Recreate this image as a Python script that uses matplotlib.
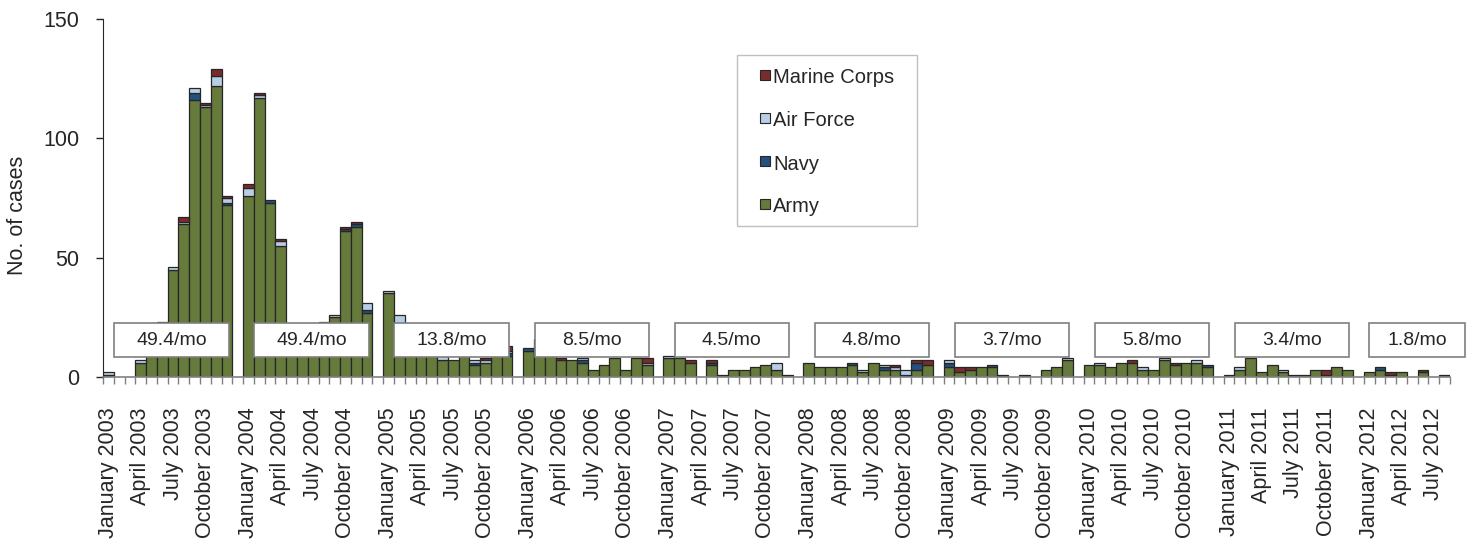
import matplotlib
matplotlib.use('Agg')
import matplotlib.pyplot as plt
from matplotlib.patches import Rectangle

plt.rcParams['font.family'] = ['Liberation Sans', 'DejaVu Sans']

# monthly cases, January 2003 - August 2012
years = [2003, 2004, 2005, 2006, 2007, 2008, 2009, 2010, 2011, 2012]
month_names = ['January', 'February', 'March', 'April', 'May', 'June', 'July',
               'August', 'September', 'October', 'November', 'December']

army = [1, 0, 0, 6, 10, 22, 45, 64, 116, 113, 122, 72,
        76, 117, 73, 55, 19, 18, 16, 22, 25, 61, 63, 27,
        35, 22, 13, 12, 12, 7, 7, 11, 5, 6, 12, 9,
        11, 16, 15, 7, 7, 6, 3, 5, 8, 3, 8, 5,
        8, 8, 6, 0, 5, 1, 3, 3, 4, 5, 3, 1,
        6, 4, 4, 4, 5, 2, 6, 3, 3, 0, 3, 5,
        4, 2, 3, 4, 4, 0, 0, 0, 0, 3, 4, 7,
        5, 5, 4, 6, 6, 3, 3, 7, 5, 6, 6, 4,
        1, 3, 8, 2, 5, 2, 1, 1, 3, 1, 4, 3,
        2, 3, 1, 2, 0, 2, 0, 1]
navy = [0, 0, 0, 0, 0, 0, 0, 0, 3, 0, 0, 1,
        0, 0, 1, 0, 0, 0, 0, 0, 0, 1, 1, 1,
        0, 0, 0, 0, 0, 0, 0, 0, 1, 0, 0, 1,
        1, 0, 0, 0, 0, 1, 0, 0, 0, 0, 0, 0,
        0, 0, 0, 0, 1, 0, 0, 0, 0, 0, 0, 0,
        0, 0, 0, 0, 1, 0, 0, 1, 0, 1, 3, 0,
        2, 0, 0, 0, 1, 0, 0, 0, 0, 0, 0, 0,
        0, 0, 0, 0, 0, 0, 0, 0, 0, 0, 0, 1,
        0, 0, 0, 0, 0, 0, 0, 0, 0, 0, 0, 0,
        0, 1, 0, 0, 0, 0, 0, 0]
air_force = [1, 0, 0, 1, 0, 0, 1, 1, 2, 1, 4, 2,
             3, 1, 0, 2, 0, 0, 0, 1, 1, 0, 0, 3,
             1, 4, 0, 0, 0, 2, 0, 0, 1, 1, 0, 1,
             0, 0, 0, 0, 0, 1, 0, 0, 0, 0, 0, 1,
             1, 0, 0, 0, 0, 0, 0, 0, 0, 0, 3, 0,
             0, 0, 0, 0, 0, 1, 0, 1, 1, 2, 0, 0,
             1, 0, 0, 0, 0, 0, 0, 0, 0, 0, 0, 1,
             0, 1, 0, 0, 0, 1, 0, 1, 0, 0, 1, 0,
             0, 1, 0, 0, 0, 1, 0, 0, 0, 0, 0, 0,
             0, 0, 0, 0, 0, 0, 0, 0]
marine = [0, 0, 0, 0, 0, 1, 0, 2, 0, 1, 3, 1,
          2, 1, 0, 1, 0, 0, 0, 0, 0, 1, 1, 0,
          0, 0, 0, 0, 0, 0, 0, 0, 0, 1, 0, 2,
          0, 0, 0, 1, 0, 0, 0, 0, 0, 0, 0, 2,
          0, 0, 1, 0, 1, 0, 0, 0, 0, 0, 0, 0,
          0, 0, 0, 0, 0, 0, 0, 0, 1, 0, 1, 2,
          0, 2, 1, 0, 0, 1, 0, 1, 0, 0, 0, 0,
          0, 0, 0, 0, 1, 0, 0, 0, 1, 0, 0, 0,
          0, 0, 0, 0, 0, 0, 0, 0, 0, 2, 0, 0,
          0, 0, 1, 0, 0, 1, 0, 0]

rates = ['49.4/mo', '49.4/mo', '13.8/mo', '8.5/mo', '4.5/mo', '4.8/mo',
         '3.7/mo', '5.8/mo', '3.4/mo', '1.8/mo']

c_army = '#657A3B'
c_navy = '#23507C'
c_af = '#B9CDE5'
c_mc = '#7A2C2C'

# one empty slot between years
pos = [i + i // 12 for i in range(len(army))]
labels = []
lab_pos = []
for i in range(len(army)):
    m = i % 12
    if m in (0, 3, 6, 9):
        labels.append(month_names[m] + ' ' + str(years[i // 12]))
        lab_pos.append(pos[i])

fig = plt.figure(figsize=(14.73, 5.4), dpi=100)
ax = fig.add_axes([103 / 1473, 1 - 377 / 540, 1347 / 1473, 358 / 540])

bottom = [0] * len(army)
for vals, col in [(army, c_army), (navy, c_navy), (air_force, c_af), (marine, c_mc)]:
    lw = [0.9 if v > 0 else 0 for v in vals]
    ax.bar(pos, vals, bottom=bottom, width=1.0, color=col, edgecolor='#262626',
           linewidth=lw, zorder=2)
    bottom = [b + v for b, v in zip(bottom, vals)]

# rate boxes, one per year
for k, r in enumerate(rates):
    ys = 13 * k
    if k < len(rates) - 1:
        left, w = ys + 0.55, 10.6
    else:
        left, w = ys + 0.0, 8.9
    ax.add_patch(Rectangle((left, 8.4), w, 14.2, facecolor='white', edgecolor='#7f7f7f',
                           linewidth=1.2, zorder=3, clip_on=False))
    ax.text(left + w / 2, 15.5, r, ha='center', va='center', fontsize=14,
            color='#262626', zorder=4, clip_on=False)

ax.set_xlim(-0.5, 124.5)
ax.set_ylim(0, 150)
ax.set_yticks([0, 50, 100, 150])
ax.tick_params(axis='y', labelsize=15.5, length=5, width=1, pad=12, colors='#262626')
ax.set_xticks(lab_pos)
ax.set_xticklabels(labels, rotation=90)
ax.set_xticks([p - 0.5 for p in range(126)], minor=True)
ax.tick_params(axis='x', which='major', length=0, pad=22, labelsize=15.5, labelcolor='#262626')
ax.tick_params(axis='x', which='minor', length=5, width=1, color='#808080')
for s in ['top', 'right']:
    ax.spines[s].set_visible(False)
ax.spines['left'].set_color('#262626')
ax.spines['bottom'].set_color('#808080')
ax.spines['bottom'].set_linewidth(1.2)

fig.text(18 / 1473, 1 - 215 / 540, 'No. of cases', rotation=90, ha='center', va='center',
         fontsize=15.5, color='#262626')

# legend drawn by hand to match the frame
def fx(x):
    return x / 1473

def fy(y):
    return 1 - y / 540

fig.patches.append(Rectangle((fx(737), fy(226)), fx(917) - fx(737), fy(55) - fy(226),
                             transform=fig.transFigure, facecolor='white',
                             edgecolor='#bfbfbf', linewidth=1, zorder=5))
leg = [('Marine Corps', c_mc, 78), ('Air Force', c_af, 121), ('Navy', c_navy, 164), ('Army', c_army, 207)]
for name, col, yc in leg:
    fig.patches.append(Rectangle((fx(760), fy(yc + 2)), fx(770) - fx(760), fy(yc - 8) - fy(yc + 2),
                                 transform=fig.transFigure, facecolor=col,
                                 edgecolor='#262626', linewidth=0.8, zorder=6))
    fig.text(fx(773), fy(yc), name, ha='left', va='center', fontsize=14.5,
             color='#262626', zorder=7)

plt.savefig('out.png', dpi=100)
plt.close()
